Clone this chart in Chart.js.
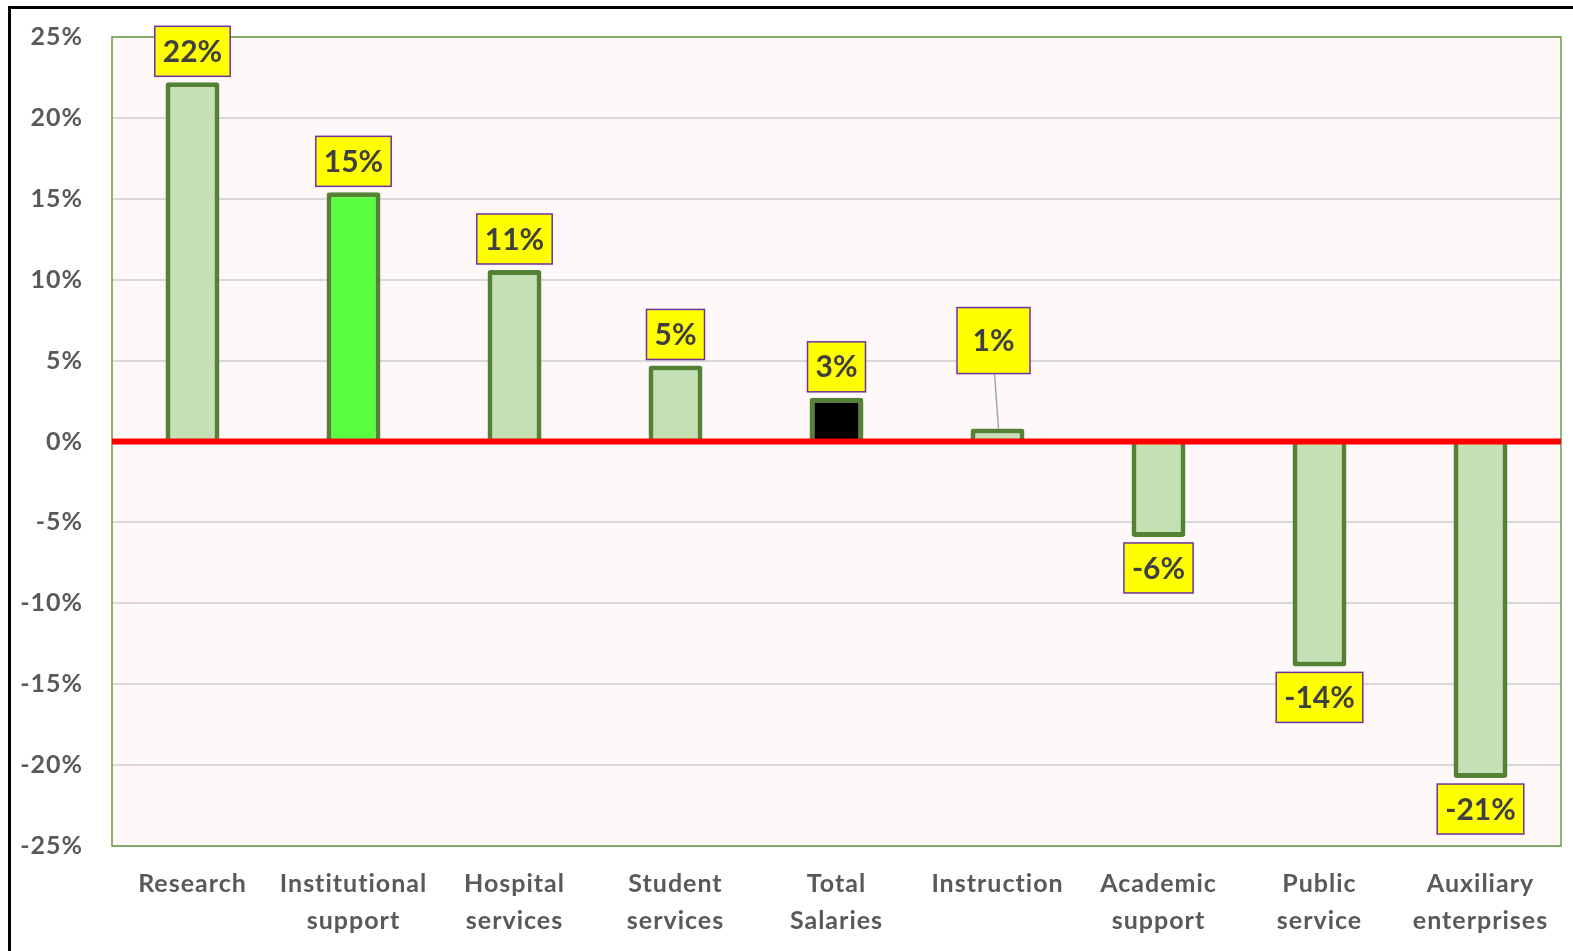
<!DOCTYPE html>
<html>
<head>
<meta charset="utf-8">
<script src="https://cdn.jsdelivr.net/npm/chart.js@4.4.1/dist/chart.umd.min.js"></script>
<style>
  html, body { margin: 0; padding: 0; background: #fff; overflow: hidden; }
  #wrap { position: relative; width: 1573px; height: 951px; }
  #frame {
    position: absolute; left: 8px; top: 6px; width: 1700px; height: 1100px;
    border: 3px solid #000; pointer-events: none;
  }
</style>
</head>
<body>
<div id="wrap">
  <canvas id="chart" width="1573" height="951"></canvas>
  <div id="frame"></div>
</div>
<script>
// Salary change by function, percent
const categories = [
  'Research', ['Institutional', 'support'], ['Hospital', 'services'],
  ['Student', 'services'], ['Total', 'Salaries'], 'Instruction',
  ['Academic', 'support'], ['Public', 'service'], ['Auxiliary', 'enterprises']
];
const changes = [22.2, 15.4, 10.6, 4.7, 2.7, 0.8, -5.9, -13.9, -20.8];
const tickValues = [-25, -20, -15, -10, -5, 0, 5, 10, 15, 20, 25];

const barFill = '#c5e0b4';
const fills = changes.map((v, i) =>
  i === 1 ? '#58ff3e' : i === 4 ? '#000000' : barFill);

// the tiny Instruction bar gets its label lifted with a leader line
const calloutIndex = 5;

const plotBackground = {
  id: 'plotBackground',
  beforeDraw(chart) {
    const { ctx, chartArea: a } = chart;
    ctx.save();
    ctx.fillStyle = '#fff';
    ctx.fillRect(0, 0, chart.width, chart.height);
    ctx.fillStyle = '#fef8f8';
    ctx.fillRect(a.left, a.top, a.right - a.left, a.bottom - a.top);
    ctx.restore();
    // axis text is set a little loose
    if ('letterSpacing' in ctx) ctx.letterSpacing = '1px';
  },
  beforeDatasetsDraw(chart) {
    const { ctx, chartArea: a } = chart;
    ctx.save();
    ctx.strokeStyle = '#6b9b46';
    ctx.lineWidth = 1.5;
    ctx.strokeRect(a.left, a.top, a.right - a.left, a.bottom - a.top);
    ctx.restore();
  }
};

const zeroLine = {
  id: 'zeroLine',
  afterDatasetsDraw(chart) {
    const { ctx, chartArea: a } = chart;
    const y = chart.scales.y.getPixelForValue(0);
    ctx.save();
    ctx.strokeStyle = '#ff0000';
    ctx.lineWidth = 6;
    ctx.beginPath();
    ctx.moveTo(a.left, y);
    ctx.lineTo(a.right, y);
    ctx.stroke();
    ctx.restore();
  }
};

const valueLabels = {
  id: 'valueLabels',
  afterDatasetsDraw(chart) {
    const { ctx } = chart;
    const meta = chart.getDatasetMeta(0);
    ctx.save();
    if ('letterSpacing' in ctx) ctx.letterSpacing = '0px';
    ctx.font = 'bold 30px Lato';
    ctx.textAlign = 'center';
    ctx.textBaseline = 'middle';
    meta.data.forEach((bar, i) => {
      const v = changes[i];
      const text = Math.round(v) + '%';
      let w = ctx.measureText(text).width + 16;
      let h = 50, gap = 6, cx = bar.x;
      if (i === calloutIndex) {
        w = 73; h = 66; gap = 55; cx -= 4;
      }
      const top = v >= 0 ? bar.y - gap - h : bar.y + gap;
      if (i === calloutIndex) {
        ctx.strokeStyle = '#a6a6a6';
        ctx.lineWidth = 1.5;
        ctx.beginPath();
        ctx.moveTo(cx + 1, top + h);
        ctx.lineTo(bar.x + 1, bar.y);
        ctx.stroke();
      }
      ctx.fillStyle = '#ffff00';
      ctx.fillRect(cx - w / 2, top, w, h);
      ctx.strokeStyle = '#7030a0';
      ctx.lineWidth = 1.5;
      ctx.strokeRect(cx - w / 2, top, w, h);
      ctx.fillStyle = '#404040';
      ctx.fillText(text, cx, top + h / 2 + 1);
    });
    ctx.restore();
  }
};

new Chart(document.getElementById('chart'), {
  type: 'bar',
  data: {
    labels: categories,
    datasets: [{
      data: changes,
      backgroundColor: fills,
      borderColor: '#548235',
      borderWidth: 5,
      borderRadius: 3,
      borderSkipped: 'start',
      categoryPercentage: 1,
      barPercentage: 0.335
    }]
  },
  options: {
    responsive: false,
    animation: false,
    layout: { padding: { left: 0, right: 12, top: 37, bottom: 0 } },
    plugins: {
      legend: { display: false },
      tooltip: { enabled: false }
    },
    scales: {
      x: {
        grid: { display: false },
        border: { display: false },
        ticks: {
          color: '#595959',
          font: { family: 'Lato', size: 25, weight: 'bold', lineHeight: 1.5 },
          padding: 11,
          maxRotation: 0,
          autoSkip: false
        },
        afterFit: s => { s.height = 105; }
      },
      y: {
        min: -25,
        max: 25,
        grid: { color: '#d9d9d9', lineWidth: 2, drawTicks: false },
        border: { display: false },
        ticks: {
          color: '#595959',
          font: { family: 'Lato', size: 25, weight: 'bold' },
          padding: 29,
          callback: v => v + '%'
        },
        afterBuildTicks: s => { s.ticks = tickValues.map(v => ({ value: v })); },
        afterFit: s => {
          s.width = 112;
          // the wide label gap shouldn't push the plot down
          s.paddingTop = 0;
          s.paddingBottom = 0;
        }
      }
    }
  },
  plugins: [plotBackground, zeroLine, valueLabels]
});
</script>
</body>
</html>
